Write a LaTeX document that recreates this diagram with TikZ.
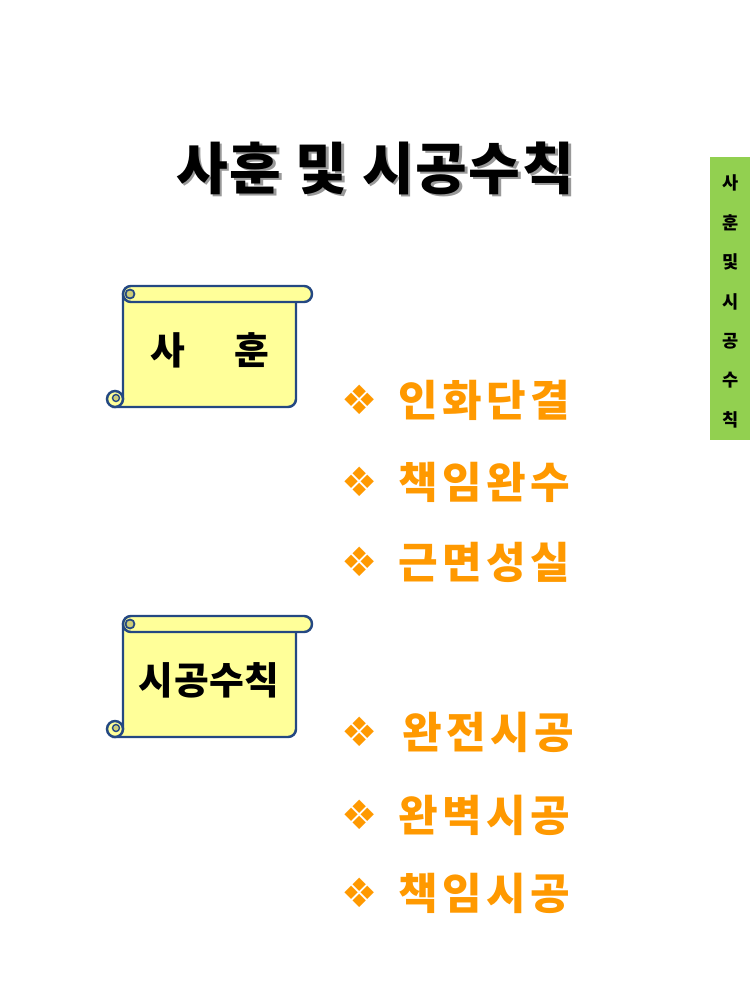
\documentclass[tikz,border=0pt]{standalone}
\usepackage{fontspec}
\setmainfont{Noto Sans CJK KR}
\newfontfamily\symfont{DejaVu Sans}
\usetikzlibrary{positioning}
\definecolor{scrollfill}{RGB}{255, 255, 153}
\definecolor{scrollshade}{RGB}{205, 205, 120}
\definecolor{scrollline}{RGB}{36, 72, 130}
\definecolor{itemorange}{RGB}{255, 153, 0}
\definecolor{sidegreen}{RGB}{146, 208, 80}
\tikzset{
    x=0.02cm, y=-0.02cm, % one unit = one pixel of the slide
    scrollpaper/.pic={
        \draw[scrollline, line width=1.4pt, fill=scrollfill]
            (16, 8) -- (16, 113) -- (8, 121) [rounded corners=.16cm]
            -- (189, 121) -- (189, 8) [sharp corners] -- cycle;
        \draw[scrollline, line width=1.4pt, fill=scrollfill,
            rounded corners=.159cm] (16, 0) rectangle (205, 16);
        \draw[scrollline, line width=1pt, fill=scrollshade] (23, 8) circle (4.5);
        \draw[scrollline, line width=1.4pt, fill=scrollfill] (8, 113) circle (8);
        \draw[scrollline, line width=.8pt, fill=scrollshade] (9, 112) circle (3.5);
    },
    titletext/.style={font=\fontsize{32}{34}\selectfont\bfseries
        \addfontfeature{LetterSpace=3}, inner sep=0},
    scrolltext/.style={font=\fontsize{21.5}{24}\selectfont\bfseries
        \addfontfeature{LetterSpace=1}, inner sep=0},
    bulletmark/.style={font=\symfont\fontsize{23}{25}\selectfont, text=itemorange,
        inner sep=0},
    itemtext/.style={font=\fontsize{24.5}{27}\selectfont\bfseries
        \addfontfeature{LetterSpace=10}, text=itemorange, inner sep=0,
        anchor=west},
    sidetext/.style={font=\fontsize{10}{12}\selectfont\bfseries, inner sep=0},
}

\begin{document}
\begin{tikzpicture}
        \useasboundingbox (0, 0) rectangle (750, 1000);
        \coordinate (title) at (375, 168);
        \coordinate (upperscroll) at (107, 286);
        \coordinate (lowerscroll) at (107, 616);
        % heading with its shadow
        \node[titletext, text=black!40, xshift=1.6pt, yshift=-1.6pt]
            (titleshadow) at (title) {사훈 및 시공수칙};
        \node[titletext] (titlenode) at (title) {사훈 및 시공수칙};
        % the two scrolls
        \pic at (upperscroll) {scrollpaper};
        \pic at (lowerscroll) {scrollpaper};
        \node[scrolltext] (motto) at (210, 350) {사\hspace{1cm}훈};
        \node[scrolltext] (rules) at (209, 680) {시공수칙};
        % bullet items
        \foreach \word/\mx/\tx/\ypos [count=\i] in {인화단결/360/398/400,
                책임완수/360/398/482, 근면성실/360/398/562,
                완전시공/360/402/732, 완벽시공/360/398/815,
                책임시공/360/398/893} {
            \node[bulletmark] (mark\i) at (\mx, \ypos) {❖};
            \node[itemtext] (item\i) at (\tx, \ypos) {\word};
        }
        % green side tab
        \fill[sidegreen] (710, 157) rectangle (750, 440);
        \foreach \ch [count=\i] in {사, 훈, 및, 시, 공, 수, 칙} {
            \node[sidetext] (side\i) at (731, 143.5 + 39.5*\i) {\ch};
        }
    \end{tikzpicture}
\end{document}
